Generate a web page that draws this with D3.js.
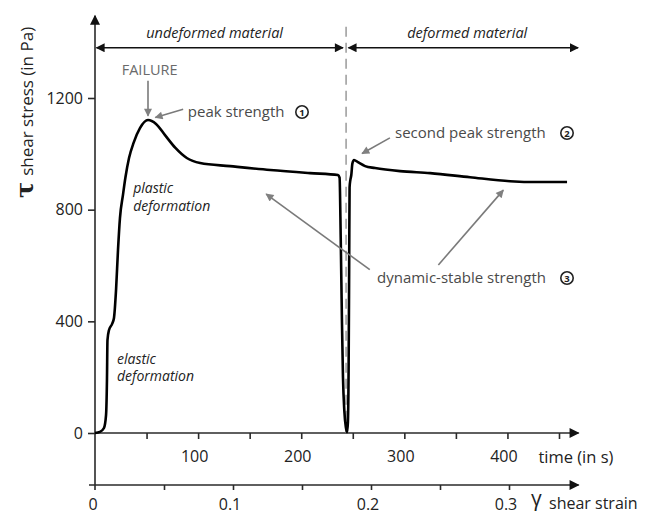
<!DOCTYPE html>
<html>
<head>
<meta charset="utf-8">
<script src="https://cdn.jsdelivr.net/npm/d3@7"></script>
<style>
  body { margin: 0; background: #fff; }
  text { font-family: "Open Sans", sans-serif; }
</style>
</head>
<body>
<svg width="667" height="514"></svg>
<script>
// curve: time (s) and shear stress (Pa)
const timeS = [0, 4.8, 8.7, 10.7, 11.6, 12.1, 13.6, 16.5, 18.4, 20.4, 22.3, 24.2, 27.2, 29.5, 33, 37.5, 43.6,
  51.4, 59.2, 67.9, 78, 89, 102, 131, 170, 208.5, 235.7, 237.2, 238.3, 239.5, 240.5, 241.8, 243.3,
  244.4, 245.3, 246.0, 246.5, 246.9, 247.6, 248.6, 249.6, 251.2, 255, 261.9, 271.6, 295.8, 325,
  363.7, 402.5, 428.7, 457.8];
const stressPa = [0, 4, 18, 64, 190, 333, 369, 390, 412, 512, 655, 770, 855, 915, 985, 1040, 1092,
  1121, 1107, 1067, 1021, 985, 967, 956, 942, 931, 924, 915, 700, 400, 200, 80, 20,
  3, 40, 250, 600, 880, 905, 925, 965, 978, 970, 956, 949, 938, 931,
  916, 902, 899, 899];

const stressTicks = [0, 400, 800, 1200];
const timeTicks = [50, 100, 150, 200, 250, 300, 350, 400, 450];
const timeLabels = [100, 200, 300, 400];
const strainTicks = [0.05, 0.1, 0.15, 0.2, 0.25, 0.3];
const strainLabels = [0, 0.1, 0.2, 0.3];

const svg = d3.select("svg");

const x = d3.scaleLinear().domain([0, 450]).range([95, 559]);
const strain = d3.scaleLinear().domain([0, 0.3]).range([95, 509]);
const y = d3.scaleLinear().domain([0, 1200]).range([433, 98]);

// arrow heads
const defs = svg.append("defs");
const addHead = (id, color, w, h) => {
  defs.append("marker")
    .attr("id", id)
    .attr("viewBox", "0 0 10 10")
    .attr("refX", 9).attr("refY", 5)
    .attr("markerUnits", "userSpaceOnUse")
    .attr("markerWidth", w).attr("markerHeight", h)
    .attr("orient", "auto-start-reverse")
    .append("path")
    .attr("d", "M0,0 L10,5 L0,10 z")
    .attr("fill", color);
};
addHead("headBlack", "#111", 13, 10);
addHead("headDark", "#111", 12, 9);
addHead("headGray", "#808080", 11, 8);

const axisColor = "#2a2a2a";

// y axis
const yAxis = svg.append("g")
  .attr("transform", "translate(95,0)")
  .call(d3.axisLeft(y).tickValues(stressTicks).tickSize(7).tickPadding(5).tickFormat(d3.format("d")));
yAxis.select(".domain").remove();
yAxis.selectAll("line").attr("stroke", axisColor).attr("stroke-width", 1.6);
yAxis.selectAll("text").attr("font-size", 16).attr("fill", "#222")
  .attr("font-family", "Open Sans, sans-serif");

svg.append("line")
  .attr("x1", 95).attr("x2", 95)
  .attr("y1", 490).attr("y2", y(1495))
  .attr("stroke", axisColor).attr("stroke-width", 1.6)
  .attr("marker-end", "url(#headBlack)");

// time axis
const tAxis = svg.append("g")
  .attr("transform", "translate(0,433)")
  .call(d3.axisBottom(x).tickValues(timeTicks).tickSize(6).tickPadding(12)
    .tickFormat(d => timeLabels.includes(d) ? d : ""));
tAxis.select(".domain").remove();
tAxis.selectAll("line").attr("stroke", axisColor).attr("stroke-width", 1.6);
tAxis.selectAll("text").attr("font-size", 16).attr("fill", "#222").attr("dx", -4)
  .attr("font-family", "Open Sans, sans-serif");

svg.append("line")
  .attr("x1", 95).attr("x2", x(469))
  .attr("y1", 433).attr("y2", 433)
  .attr("stroke", axisColor).attr("stroke-width", 1.6)
  .attr("marker-end", "url(#headBlack)");

svg.append("text")
  .attr("x", x(430)).attr("y", 463)
  .attr("font-size", 16.5).attr("fill", "#222")
  .text("time (in s)");

// strain axis
const sAxis = svg.append("g")
  .attr("transform", "translate(0,485)")
  .call(d3.axisBottom(strain).tickValues(strainTicks).tickSize(5).tickFormat(""));
sAxis.select(".domain").remove();
sAxis.selectAll("line").attr("stroke", axisColor).attr("stroke-width", 1.6);

svg.append("line")
  .attr("x1", 89).attr("x2", x(469))
  .attr("y1", 485).attr("y2", 485)
  .attr("stroke", axisColor).attr("stroke-width", 1.6)
  .attr("marker-end", "url(#headBlack)");

svg.append("g").selectAll("text")
  .data(strainLabels)
  .enter()
  .append("text")
  .attr("x", d => strain(d) - (d === 0 ? 2 : 3))
  .attr("y", 510)
  .attr("text-anchor", "middle")
  .attr("font-size", 16).attr("fill", "#222")
  .text(d => d);

svg.append("text")
  .attr("x", strain(0.3) + 22).attr("y", 506)
  .attr("font-size", 21).attr("fill", "#222")
  .attr("font-family", "DejaVu Serif, serif")
  .text("γ");
svg.append("text")
  .attr("x", strain(0.3) + 40).attr("y", 509)
  .attr("font-size", 16).attr("fill", "#222")
  .text("shear strain");

// y label
svg.append("text")
  .attr("transform", "translate(33,198) rotate(-90)")
  .attr("fill", "#222")
  .call(t => {
    t.append("tspan").attr("font-size", 24).attr("font-weight", "bold")
      .attr("font-family", "DejaVu Serif, serif").text("τ");
    t.append("tspan").attr("font-size", 17).attr("dx", 6).text("shear stress (in Pa)");
  });

// separation between undeformed and deformed material
svg.append("line")
  .attr("x1", x(243.5)).attr("x2", x(243.5))
  .attr("y1", y(1455)).attr("y2", y(0))
  .attr("stroke", "#8a8a8a").attr("stroke-width", 1.3)
  .attr("stroke-dasharray", "10,6");

svg.append("line")
  .attr("x1", x(1.5)).attr("x2", x(240.5))
  .attr("y1", y(1380)).attr("y2", y(1380))
  .attr("stroke", "#111").attr("stroke-width", 1.5)
  .attr("marker-start", "url(#headDark)")
  .attr("marker-end", "url(#headDark)");
svg.append("line")
  .attr("x1", x(245.8)).attr("x2", x(468.5))
  .attr("y1", y(1380)).attr("y2", y(1380))
  .attr("stroke", "#111").attr("stroke-width", 1.5)
  .attr("marker-start", "url(#headDark)")
  .attr("marker-end", "url(#headDark)");

svg.append("text")
  .attr("x", x(116)).attr("y", 38)
  .attr("text-anchor", "middle").attr("font-style", "italic")
  .attr("font-size", 14.5).attr("fill", "#222")
  .text("undeformed material");
svg.append("text")
  .attr("x", x(361)).attr("y", 38)
  .attr("text-anchor", "middle").attr("font-style", "italic")
  .attr("font-size", 14.5).attr("fill", "#222")
  .text("deformed material");

// the curve
const points = timeS.map((t, i) => [t, stressPa[i]]);
const line = d3.line()
  .x(d => x(d[0]))
  .y(d => y(d[1]))
  .curve(d3.curveMonotoneX);

svg.append("path")
  .datum(points)
  .attr("d", line)
  .attr("fill", "none")
  .attr("stroke", "#000")
  .attr("stroke-width", 2.6)
  .attr("stroke-linejoin", "round");

// annotations
const grayArrow = (t1, s1, t2, s2) => {
  svg.append("line")
    .attr("x1", x(t1)).attr("y1", y(s1))
    .attr("x2", x(t2)).attr("y2", y(s2))
    .attr("stroke", "#7a7a7a").attr("stroke-width", 1.6)
    .attr("marker-end", "url(#headGray)");
};
const circled = (cx, cy, n) => {
  svg.append("circle").attr("cx", cx).attr("cy", cy).attr("r", 6.2)
    .attr("fill", "none").attr("stroke", "#222").attr("stroke-width", 1.6);
  svg.append("text").attr("x", cx).attr("y", cy + 3.5)
    .attr("text-anchor", "middle").attr("font-size", 9.5).attr("font-weight", "bold")
    .attr("fill", "#222").text(n);
};

svg.append("text")
  .attr("x", x(53)).attr("y", 75)
  .attr("text-anchor", "middle").attr("font-size", 14.5).attr("fill", "#6a6a6a")
  .text("FAILURE");
grayArrow(51.4, 1262, 51.4, 1136);

grayArrow(85.5, 1160, 58.5, 1130);
svg.append("text")
  .attr("x", x(90)).attr("y", 117)
  .attr("font-size", 15).attr("fill", "#4a4a4a")
  .text("peak strength");
circled(302, 112, "1");

grayArrow(286, 1057, 259, 1001);
svg.append("text")
  .attr("x", x(291)).attr("y", 138)
  .attr("font-size", 15).attr("fill", "#4a4a4a")
  .text("second peak strength");
circled(567, 133, "2");

grayArrow(266.5, 585, 166, 856);
grayArrow(333, 602, 396, 870);
svg.append("text")
  .attr("x", x(273.5)).attr("y", 283)
  .attr("font-size", 15).attr("fill", "#4a4a4a")
  .text("dynamic-stable strength");
circled(567, 278, "3");

const italicPair = (t, s1, lines, gap) => {
  svg.append("text")
    .attr("font-style", "italic").attr("font-size", 14).attr("fill", "#222")
    .selectAll("tspan")
    .data(lines)
    .enter()
    .append("tspan")
    .attr("x", x(t))
    .attr("y", (d, i) => y(s1) + i * gap)
    .text(d => d);
};
italicPair(37, 860, ["plastic", "deformation"], 18);
italicPair(21.3, 247, ["elastic", "deformation"], 17);
</script>
</body>
</html>
